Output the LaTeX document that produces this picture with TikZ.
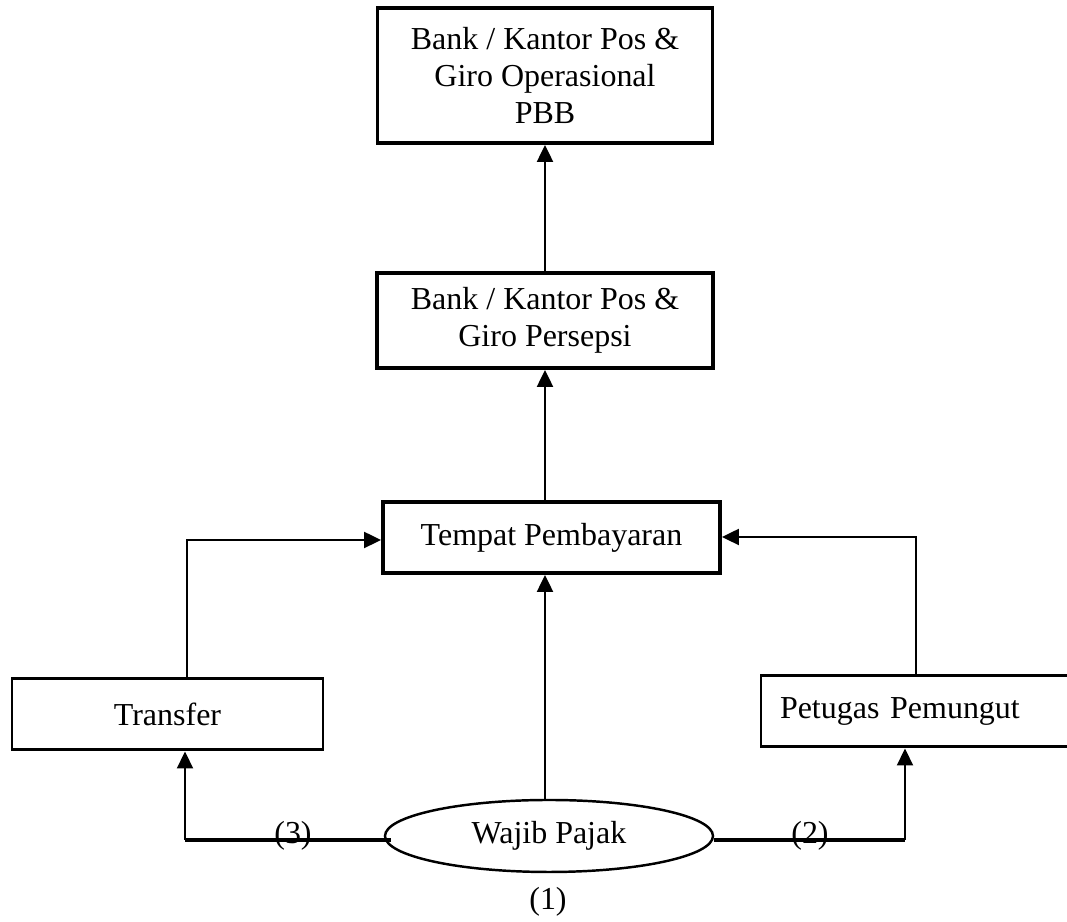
\documentclass[tikz,border=0pt]{standalone}
\usepackage{fontspec}
\setmainfont{Liberation Serif}
\usetikzlibrary{arrows.meta,shapes.geometric}

\begin{document}
\begin{tikzpicture}[font=\fontsize{9.1}{10.6}\selectfont,
  box/.style={draw, line width=1.1pt, align=center, inner sep=0pt},
  thinbox/.style={draw, line width=0.85pt, inner sep=0pt},
  arr/.style={-{Triangle[length=1.7mm,width=1.6mm]}, line width=0.6pt},
  heavy/.style={line width=1.1pt}]
%\draw[help lines] (0,0) grid (10,-9);
\useasboundingbox (0,0) rectangle (10.67,-9.22);
\node (opr) [box, minimum width=3.35cm, minimum height=1.35cm] at (5.45,-0.755) {Bank / Kantor Pos \&\\Giro Operasional\\PBB};
\node (persepsi) [box, minimum width=3.36cm, minimum height=0.95cm] at (5.45,-3.205) {Bank / Kantor Pos \&\\Giro Persepsi};
\node (tempat) [box, minimum width=3.37cm, minimum height=0.71cm] at (5.515,-5.375) {Tempat Pembayaran};
\node (transfer) [thinbox, minimum width=3.11cm, minimum height=0.71cm] at (1.675,-7.145) {Transfer};
\node (petugas) [thinbox, text width=2.73cm, inner xsep=0.19cm, align=left, minimum height=0.71cm] at (9.165,-7.115) {Petugas Pemungut};
\node (wajib) [draw, ellipse, line width=0.7pt, minimum width=3.28cm, minimum height=0.72cm, inner sep=0pt] at (5.49,-8.36) {Wajib Pajak};
\node (n3) [] at (2.93,-8.36) {(3)};
\node (n2) [] at (8.10,-8.36) {(2)};
\node (n1) [] at (5.48,-9.02) {(1)};
\coordinate (tl) at (1.85,-8.40);
\coordinate (tr) at (9.05,-8.40);
\coordinate (tu) at (1.87,-5.40);
\coordinate (pu) at (9.16,-5.37);
\draw[arr] (persepsi.north) -- (opr.south);
\draw[arr] (persepsi.south |- tempat.north) -- (persepsi.south);
\draw[arr] (persepsi.south |- wajib.north) -- (persepsi.south |- tempat.south);
\draw[heavy] ([xshift=0.07cm]wajib.west |- tl) -- (tl);
\draw[arr] (tl) -- (tl |- transfer.south);
\draw[heavy] (wajib.east |- tr) -- (tr);
\draw[arr] (tr) -- (tr |- petugas.south);
\draw[arr] (tu |- transfer.north) -- (tu) -- (tu -| tempat.west);
\draw[arr] (pu |- petugas.north) -- (pu) -- (pu -| tempat.east);
\end{tikzpicture}
\end{document}
